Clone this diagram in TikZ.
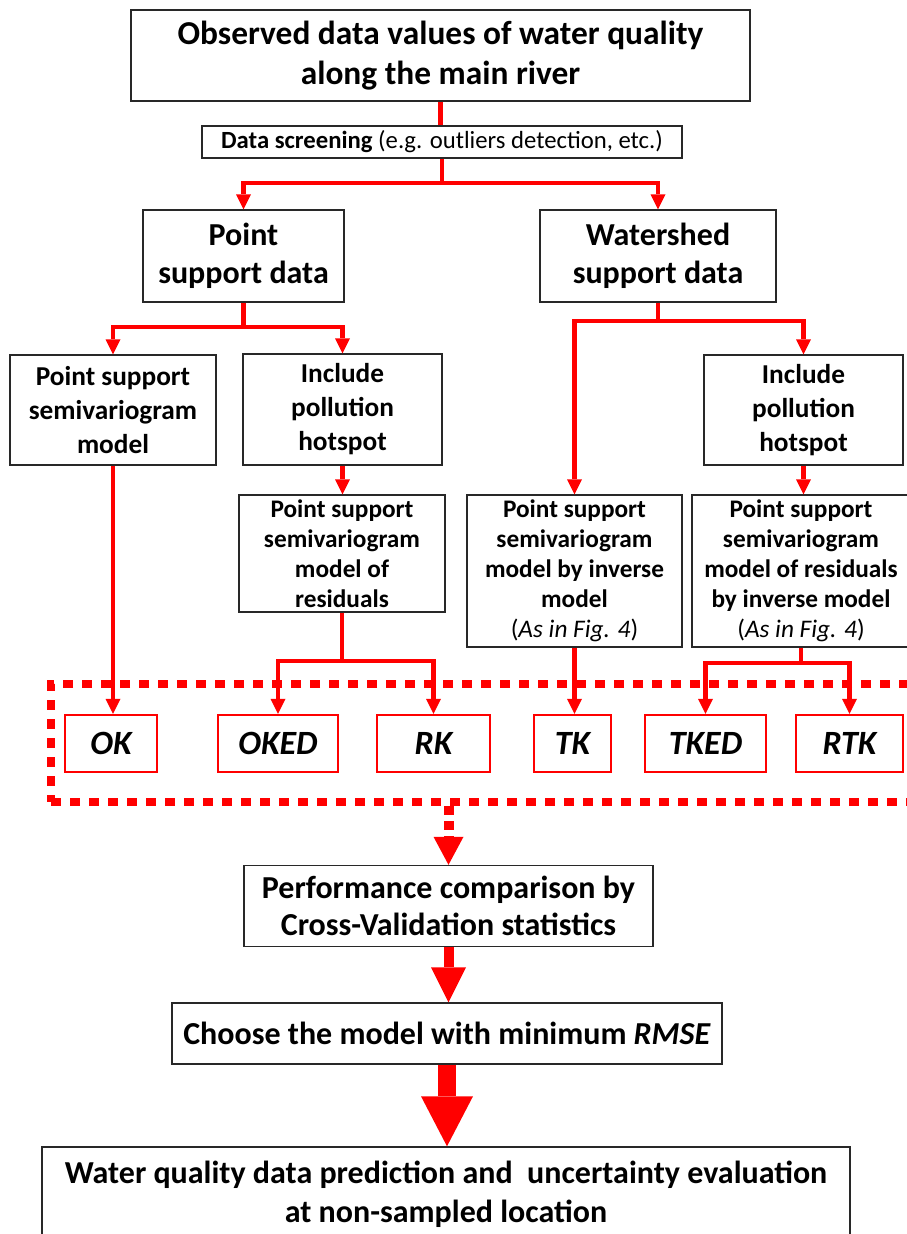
\documentclass[tikz,border=0pt]{standalone}
\usepackage{fontspec}
\setmainfont{Carlito}
\usetikzlibrary{arrows.meta}
\definecolor{boxline}{RGB}{40,40,40}
\definecolor{rred}{RGB}{255,0,0}
\tikzset{
  box/.style={draw=boxline, line width=1.4pt, fill=white, inner sep=0pt, align=center, text=black},
  mbox/.style={draw=rred, line width=2.4pt, fill=white, inner sep=0pt, minimum height=57pt,
    font=\fontsize{34}{38}\selectfont\bfseries\itshape},
  fbig/.style={font=\fontsize{32}{38.5}\selectfont\bfseries},
  fmid/.style={font=\fontsize{27.3}{34}\selectfont\bfseries},
  fsmall/.style={font=\fontsize{25.3}{30}\selectfont\bfseries},
  conn/.style={draw=rred, line width=4.5pt, line join=miter},
  arr/.style={conn, -{Triangle[width=15pt,length=15pt,line width=0pt]}},
  dashbox/.style={draw=rred, line width=8pt, dash pattern=on 10pt off 9pt, inner sep=0pt},
  dasharr/.style={draw=rred, line width=10pt, dash pattern=on 9pt off 6pt,
    -{Triangle[width=30pt,length=28pt,line width=0pt]}},
  fatarr/.style={draw=rred, line width=10pt, -{Triangle[width=35pt,length=35pt,line width=0pt]}},
  hugearr/.style={draw=rred, line width=18pt, -{Triangle[width=52pt,length=50pt,line width=0pt]}},
}
\begin{document}
\begin{tikzpicture}[x=1pt,y=1pt]
\fill[white] (0,0) rectangle (906,-1234);
\useasboundingbox (0,0) rectangle (906,-1234);

% dashed group box (background)
\node[dashbox, minimum width=864pt, minimum height=118pt] (dbox) at (483,-743) {};

% boxes
\node[box, font=\fontsize{33.4}{40}\selectfont\bfseries, minimum width=619pt, minimum height=91pt] (top) at (440.5,-55.5)
  {Observed data values of water quality\\along the main river};
\node[box, minimum width=480pt, minimum height=32pt, font=\fontsize{24.7}{28}\selectfont] (screen) at (442,-142)
  {\textbf{Data screening} (e.g. outliers detection, etc.)};
\node[box, fbig, minimum width=201pt, minimum height=92pt] (point) at (243.5,-256) {Point\\support data};
\node[box, fbig, minimum width=236pt, minimum height=92pt] (water) at (658,-256) {Watershed\\support data};

\node[box, fmid, minimum width=206pt, minimum height=110pt] (psm) at (113,-410) {Point support\\semivariogram\\model};
\node[box, fmid, minimum width=199pt, minimum height=111pt] (incl1) at (342.5,-409.5) {Include\\pollution\\hotspot};
\node[box, fmid, minimum width=199pt, minimum height=110pt] (incl2) at (803.5,-410) {Include\\pollution\\hotspot};

\node[box, fsmall, minimum width=206pt, minimum height=117pt] (res) at (342,-553.5)
  {Point support\\semivariogram\\model of\\residuals};
\node[box, fsmall, minimum width=215pt, minimum height=152pt] (inv) at (574.5,-571)
  {Point support\\semivariogram\\model by inverse\\model\\{\mdseries(\textit{As in Fig. 4})}};
\node[box, fsmall, minimum width=218pt, minimum height=152pt] (resinv) at (801,-571)
  {Point support\\semivariogram\\model of residuals\\by inverse model\\{\mdseries(\textit{As in Fig. 4})}};

% model boxes
\node[mbox, minimum width=92pt]  (ok)   at (111,-743.5) {OK};
\node[mbox, minimum width=120pt] (oked) at (278,-743.5) {OKED};
\node[mbox, minimum width=113pt] (rk)   at (433.5,-743.5) {RK};
\node[mbox, minimum width=77pt]  (tk)   at (572.5,-743.5) {TK};
\node[mbox, minimum width=121pt] (tked) at (705.5,-743.5) {TKED};
\node[mbox, minimum width=107pt] (rtk)  at (849.5,-743.5) {RTK};

% lower boxes
\node[box, font=\fontsize{32}{37}\selectfont\bfseries, minimum width=409pt, minimum height=81pt] (perf) at (448.5,-906)
  {Performance comparison by\\Cross-Validation statistics};
\node[box, fbig, minimum width=550pt, minimum height=61pt] (choose) at (447,-1033.5)
  {Choose the model with minimum \textit{RMSE}};
\node[box, fbig, minimum width=808pt, minimum height=94pt] (final) at (446,-1194)
  {Water quality data prediction and\ \ uncertainty evaluation\\at non-sampled location};

% junction coordinates
\coordinate (y1) at (0,-183);
\coordinate (y2) at (0,-327);
\coordinate (y3) at (0,-321);
\coordinate (y4) at (0,-661);
\coordinate (y5) at (0,-663);
\coordinate (j1) at (screen.south |- y1);
\coordinate (j2) at (point.south |- y2);
\coordinate (j3) at (water.south |- y3);
\coordinate (j4) at (res.south |- y4);
\coordinate (j5) at (resinv.south |- y5);

% connectors
\draw[conn] (top.south) -- (top.south |- screen.north);
\draw[conn] (screen.south) -- (j1);
\draw[arr] (j1) -| (point.north);
\draw[arr] (j1) -| (water.north);

\draw[conn] (point.south) -- (j2);
\draw[arr] (j2) -| (psm.north);
\draw[arr] (j2) -| (incl1.north);

\draw[conn] (water.south) -- (j3);
\draw[arr] (j3) -| (inv.north);
\draw[arr] (j3) -| (incl2.north);

\draw[arr] (incl1.south) -- (incl1.south |- res.north);
\draw[arr] (incl2.south) -- (incl2.south |- resinv.north);

\draw[arr] (psm.south) -- (psm.south |- ok.north);
\draw[conn] (res.south) -- (j4);
\draw[arr] (j4) -| (oked.north);
\draw[arr] (j4) -| (rk.north);
\draw[arr] (inv.south) -- (inv.south |- tk.north);
\draw[conn] (resinv.south) -- (j5);
\draw[arr] (j5) -| (tked.north);
\draw[arr] (j5) -| (rtk.north);

\draw[dasharr] (dbox.south -| perf.north) -- (perf.north);
\draw[fatarr] (perf.south) -- (perf.south |- choose.north);
\draw[hugearr] (choose.south) -- (choose.south |- final.north);
\end{tikzpicture}
\end{document}
